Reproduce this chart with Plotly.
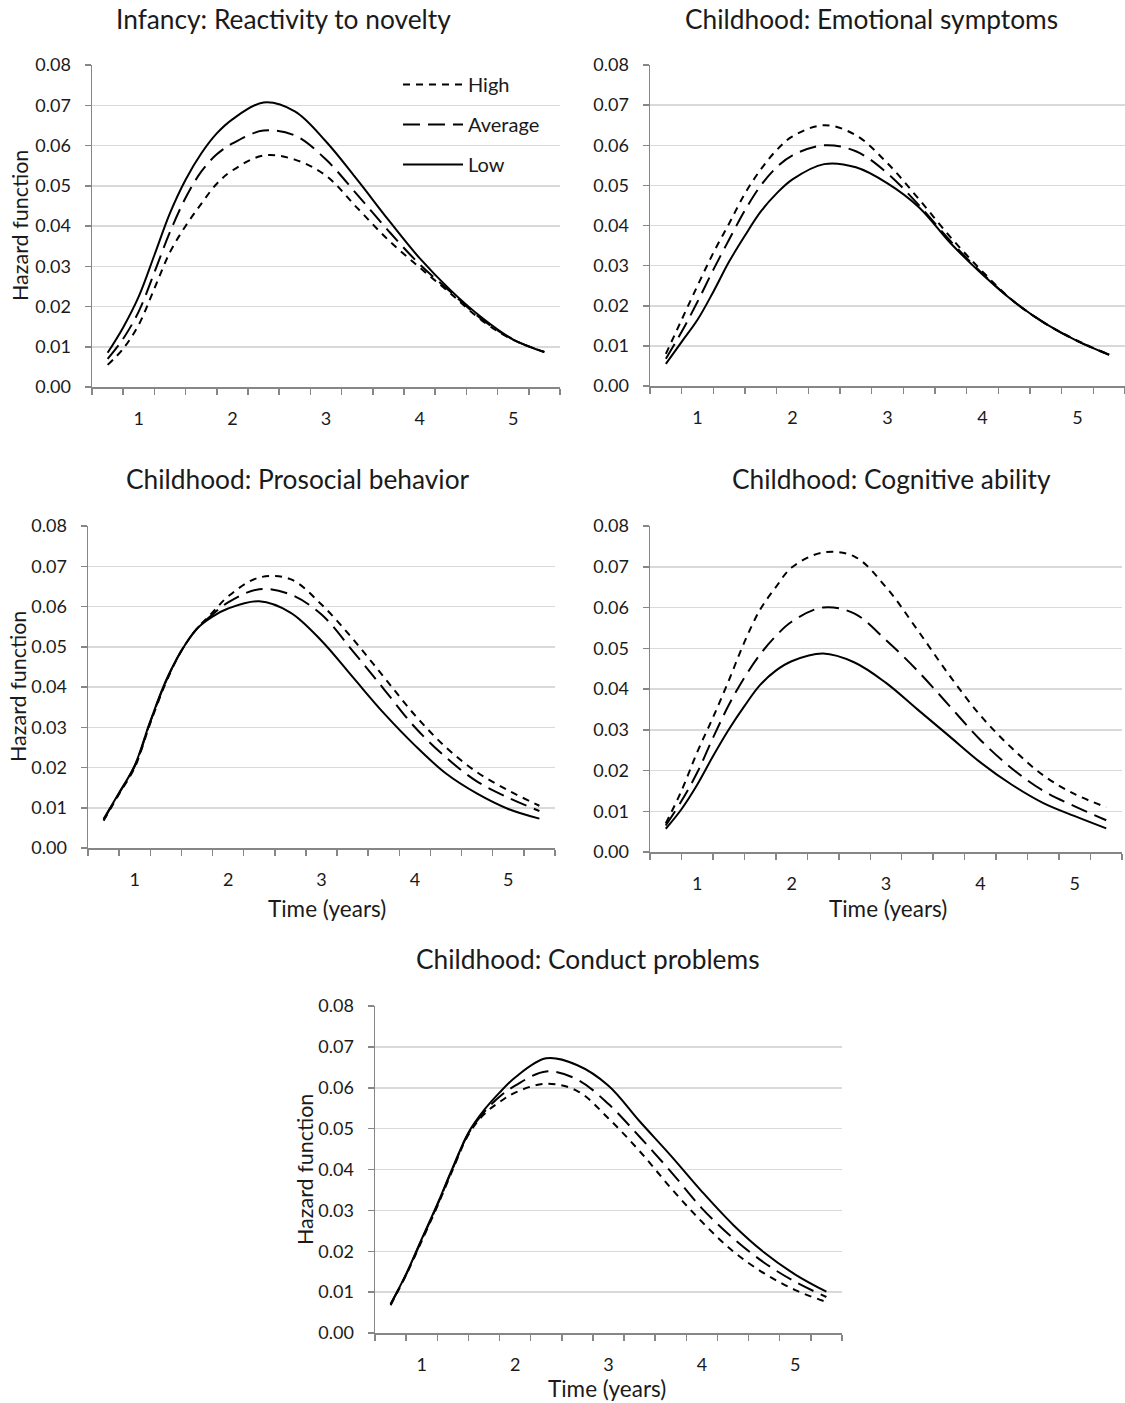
import plotly.graph_objects as go

# ---------------- data ----------------
time_years = [0.667, 0.833, 1.0, 1.167, 1.333, 1.5, 1.667, 1.833, 2.0, 2.333, 2.667,
              3.0, 3.333, 3.667, 4.0, 4.333, 4.667, 5.0, 5.333]
x_tick_vals = [1, 2, 3, 4, 5]
x_tick_text = ["1", "2", "3", "4", "5"]

panel_titles = [
    "Infancy: Reactivity to novelty",
    "Childhood: Emotional symptoms",
    "Childhood: Prosocial behavior",
    "Childhood: Cognitive ability",
    "Childhood: Conduct problems",
]
series_names = ["High", "Average", "Low"]

# Infancy: Reactivity to novelty
p1_high = [0.0055, 0.0095, 0.0155, 0.0245, 0.0335, 0.040, 0.0455, 0.0505, 0.0538, 0.0575, 0.0565,
           0.0525, 0.0445, 0.0365, 0.0297, 0.0232, 0.0165, 0.0117, 0.0087]
p1_avg  = [0.0070, 0.012, 0.0188, 0.0285, 0.0385, 0.047, 0.0535, 0.0578, 0.0605, 0.0637, 0.0625,
           0.0565, 0.0478, 0.0388, 0.0305, 0.0236, 0.0168, 0.0118, 0.0087]
p1_low  = [0.0085, 0.0148, 0.0225, 0.0328, 0.0432, 0.0515, 0.058, 0.063, 0.0665, 0.0707, 0.0685,
           0.061, 0.0515, 0.0415, 0.032, 0.024, 0.0172, 0.0118, 0.0087]

# Childhood: Emotional symptoms
p2_high = [0.0080, 0.0165, 0.025, 0.0332, 0.0405, 0.048, 0.054, 0.0588, 0.0622, 0.065, 0.0625,
           0.0555, 0.0465, 0.037, 0.0285, 0.021, 0.0155, 0.0113, 0.0078]
p2_avg  = [0.0068, 0.0135, 0.021, 0.029, 0.0365, 0.0438, 0.050, 0.0545, 0.0575, 0.060, 0.0585,
           0.053, 0.045, 0.036, 0.028, 0.021, 0.0155, 0.0112, 0.0078]
p2_low  = [0.0055, 0.011, 0.0165, 0.0235, 0.031, 0.0375, 0.0435, 0.048, 0.0515, 0.0553, 0.0545,
           0.0505, 0.0445, 0.0355, 0.0278, 0.021, 0.0155, 0.0112, 0.0078]

# Childhood: Prosocial behavior
p3_high = [0.0068, 0.0134, 0.020, 0.031, 0.041, 0.049, 0.0545, 0.0585, 0.0625, 0.0672, 0.0668,
           0.0605, 0.052, 0.0425, 0.033, 0.025, 0.0188, 0.0143, 0.0105]
p3_avg  = [0.0070, 0.0136, 0.0203, 0.0313, 0.0413, 0.049, 0.0545, 0.058, 0.061, 0.0643, 0.063,
           0.058, 0.049, 0.0395, 0.030, 0.0225, 0.0165, 0.0125, 0.0092]
p3_low  = [0.0072, 0.0137, 0.0205, 0.0315, 0.0415, 0.049, 0.0545, 0.0575, 0.0595, 0.0613, 0.0585,
           0.0515, 0.0425, 0.0335, 0.0255, 0.0185, 0.0135, 0.0097, 0.0073]

# Childhood: Cognitive ability
p4_high = [0.0070, 0.015, 0.0245, 0.033, 0.042, 0.0515, 0.0595, 0.065, 0.0698, 0.0735, 0.0725,
           0.065, 0.0545, 0.0435, 0.0335, 0.0255, 0.0188, 0.0142, 0.011]
p4_avg  = [0.0065, 0.0125, 0.0195, 0.028, 0.036, 0.0428, 0.0485, 0.053, 0.0565, 0.060, 0.0585,
           0.052, 0.0445, 0.036, 0.0275, 0.0205, 0.015, 0.0112, 0.0078]
p4_low  = [0.0057, 0.0105, 0.0165, 0.0235, 0.030, 0.0358, 0.041, 0.0445, 0.0468, 0.0487, 0.0465,
           0.0415, 0.035, 0.0285, 0.022, 0.0165, 0.012, 0.0088, 0.0058]

# Childhood: Conduct problems
p5_high = [0.0068, 0.0142, 0.0225, 0.031, 0.040, 0.0485, 0.0535, 0.0565, 0.0588, 0.061, 0.0592,
           0.0525, 0.0445, 0.0355, 0.0272, 0.020, 0.0146, 0.0105, 0.0076]
p5_avg  = [0.0070, 0.0143, 0.0228, 0.0313, 0.0403, 0.0488, 0.054, 0.0578, 0.0605, 0.064, 0.062,
           0.056, 0.048, 0.0395, 0.0305, 0.0232, 0.0172, 0.0125, 0.0088]
p5_low  = [0.0071, 0.0144, 0.023, 0.0315, 0.0405, 0.049, 0.0545, 0.0588, 0.0625, 0.0672, 0.0655,
           0.0605, 0.0518, 0.0434, 0.0346, 0.0265, 0.0197, 0.0143, 0.0101]

panels = [
    (p1_high, p1_avg, p1_low),
    (p2_high, p2_avg, p2_low),
    (p3_high, p3_avg, p3_low),
    (p4_high, p4_avg, p4_low),
    (p5_high, p5_avg, p5_low),
]

# ---------------- layout helpers ----------------
W, H = 1125, 1403
FONT = "Lato"
AXIS_COLOR = "#868686"
GRID_COLOR = "#d9d9d9"
TEXT_COLOR = "#1a1a1a"

def px_x(v):
    return v / W

def px_y(v):
    return 1 - v / H

# plot-area boxes in pixels: (left, right, top, bottom)
boxes = [
    (92, 560, 65, 387),
    (650, 1125, 65, 386),
    (88, 555, 526, 848),
    (650, 1122, 526, 852),
    (375, 842, 1006, 1333),
]
title_pos = [(283, 19), (871, 19), (298, 479), (891, 479), (588, 959)]
ylabel_pos = {0: (20, 226), 2: (18, 687), 4: (305, 1170)}
xlabel_pos = {2: (327, 908), 3: (888, 908), 4: (607, 1388)}

dash_styles = {"High": "7px,6px", "Average": "17px,8px", "Low": "solid"}

fig = go.Figure()
layout = dict(
    template="none",
    width=W, height=H, autosize=False,
    margin=dict(l=0, r=0, t=0, b=0, pad=0, autoexpand=False),
    paper_bgcolor="white", plot_bgcolor="white",
    font=dict(family=FONT, color=TEXT_COLOR, size=18),
    annotations=[],
)

for i, (vals, box) in enumerate(zip(panels, boxes)):
    ax = "" if i == 0 else str(i + 1)
    xa, ya = "x" + ax, "y" + ax
    for name, ys in zip(series_names, vals):
        fig.add_trace(go.Scatter(
            x=time_years, y=ys, mode="lines", name=name,
            line=dict(color="black", width=2, dash=dash_styles[name], shape="spline", smoothing=1.0),
            xaxis=xa, yaxis=ya, showlegend=(i == 0),
            legendgroup=name, hoverinfo="skip",
        ))
    l, r, t, b = box
    layout["xaxis" + ax] = dict(
        domain=[px_x(l), px_x(r)], anchor=ya, range=[0.5, 5.5], automargin=False,
        tickmode="array", tickvals=x_tick_vals, ticktext=x_tick_text,
        ticks="", showgrid=False, zeroline=False,
        showline=True, linecolor=AXIS_COLOR, linewidth=1.5,
        ticklabelstandoff=15, tickfont=dict(size=18, family=FONT, color=TEXT_COLOR),
        minor=dict(tick0=0.5, dtick=1 / 3, ticks="outside", ticklen=6,
                   tickcolor=AXIS_COLOR, tickwidth=1.5, showgrid=False),
    )
    layout["yaxis" + ax] = dict(
        domain=[px_y(b), px_y(t)], anchor=xa, range=[0, 0.08], automargin=False,
        tickmode="linear", tick0=0, dtick=0.01, tickformat=".2f",
        ticks="outside", ticklen=6, tickcolor=AXIS_COLOR, tickwidth=1.5,
        showgrid=True, gridcolor=GRID_COLOR, gridwidth=1.5, zeroline=False,
        showline=True, linecolor=AXIS_COLOR, linewidth=1.5,
        ticklabelstandoff=10,
        tickfont=dict(size=18, family=FONT, color=TEXT_COLOR),
    )
    tx, ty = title_pos[i]
    layout["annotations"].append(dict(
        text=panel_titles[i], x=px_x(tx), y=px_y(ty), xref="paper", yref="paper",
        xanchor="center", yanchor="middle", showarrow=False,
        font=dict(size=26.3, family=FONT, color=TEXT_COLOR),
    ))
    if i in ylabel_pos:
        lx, ly = ylabel_pos[i]
        layout["annotations"].append(dict(
            text="Hazard function", x=px_x(lx), y=px_y(ly), xref="paper", yref="paper",
            xanchor="center", yanchor="middle", showarrow=False, textangle=-90,
            font=dict(size=21.5, family=FONT, color=TEXT_COLOR),
        ))
    if i in xlabel_pos:
        lx, ly = xlabel_pos[i]
        layout["annotations"].append(dict(
            text="Time (years)", x=px_x(lx), y=px_y(ly), xref="paper", yref="paper",
            xanchor="center", yanchor="middle", showarrow=False,
            font=dict(size=22.5, family=FONT, color=TEXT_COLOR),
        ))

layout["legend"] = dict(
    x=px_x(398), y=px_y(65), xanchor="left", yanchor="top",
    bgcolor="rgba(0,0,0,0)", font=dict(size=20, family=FONT, color=TEXT_COLOR),
    traceorder="grouped", tracegroupgap=11, itemwidth=60, borderwidth=0,
)
layout["hovermode"] = False
fig.update_layout(**layout)

page_fix = (
    "var gd=document.getElementById('{plot_id}');"
    "document.documentElement.style.cssText='margin:0;padding:0;overflow:hidden;height:1403px;width:1125px';"
    "document.body.style.cssText='margin:0;padding:0;overflow:hidden;height:1403px;width:1125px;position:relative';"
    "gd.style.position='absolute';gd.style.top='0px';gd.style.left='0px';"
)

fig.write_html(
    "out.html",
    config={"displayModeBar": False, "staticPlot": True},
    post_script=page_fix,
)
